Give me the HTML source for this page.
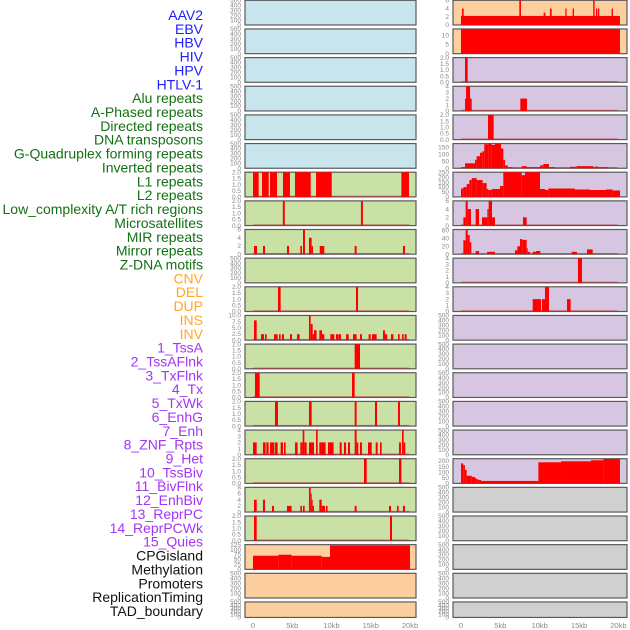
<!DOCTYPE html>
<html><head><meta charset="utf-8">
<style>
html,body{margin:0;padding:0;background:#fff;width:630px;height:630px;overflow:hidden}
svg{display:block}
.lab{font-family:"Liberation Sans",sans-serif;font-size:14px;text-anchor:end}
.tk{font-family:"Liberation Sans",sans-serif;font-size:6.5px;fill:#888;text-anchor:end}
.xt{font-family:"Liberation Sans",sans-serif;font-size:7.5px;fill:#888;text-anchor:middle}
</style></head>
<body>
<svg id="chart" width="630" height="630" viewBox="0 0 630 630" xmlns="http://www.w3.org/2000/svg"></svg>
<script>
// ---- data ----
const trackLabels = ["AAV2","EBV","HBV","HIV","HPV","HTLV-1","Alu repeats","A-Phased repeats","Directed repeats","DNA transposons","G-Quadruplex forming repeats","Inverted repeats","L1 repeats","L2 repeats","Low_complexity A/T rich regions","Microsatellites","MIR repeats","Mirror repeats","Z-DNA motifs","CNV","DEL","DUP","INS","INV","1_TssA","2_TssAFlnk","3_TxFlnk","4_Tx","5_TxWk","6_EnhG","7_Enh","8_ZNF_Rpts","9_Het","10_TssBiv","11_BivFlnk","12_EnhBiv","13_ReprPC","14_ReprPCWk","15_Quies","CPGisland","Methylation","Promoters","ReplicationTiming","TAD_boundary"];
const labelGroups = ["virus","virus","virus","virus","virus","virus","repeat","repeat","repeat","repeat","repeat","repeat","repeat","repeat","repeat","repeat","repeat","repeat","repeat","sv","sv","sv","sv","sv","state","state","state","state","state","state","state","state","state","state","state","state","state","state","state","other","other","other","other","other"];
const xTickValues = [0,5,10,15,20];
const xTickLabels = ["0","5kb","10kb","15kb","20kb"];
const emptyTicks = ["0","100","200","300","400","500"];
const ticks2 = ["0.0","0.5","1.0","1.5","2.0"];

// left column panels (rows 0..21), bars: [startKb, endKb, value]
const L_alu = [[0,0.72,2],[1.15,2.0,2],[2.17,3.06,2],[3.82,4.71,2],[5.35,7.35,2],[8.03,10.03,2],[18.9,19.87,2]];
const L_aphased = [[3.8,4.05,2],[13.75,14.0,2]];
const L_directed = [[0.13,0.51,2],[1.27,1.53,2],[4.33,4.59,2],[6.03,6.24,2],[6.37,6.62,6],[7.13,7.47,4],[7.47,7.64,2],[8.5,9.08,2],[12.95,13.2,2],[19.1,19.36,2]];
const L_micro = [[3.18,3.52,2],[13.12,13.38,2]];
const L_mir = [[0.13,0.47,8],[1.02,1.4,2.4],[1.53,1.74,2.4],[2.68,3.14,2.4],[3.31,3.52,2.4],[3.69,3.95,2.4],[4.71,4.97,2.4],[5.6,5.94,2.4],[7.13,7.35,10],[7.35,7.6,6.5],[7.6,7.77,2.4],[7.77,8.1,4],[8.45,8.79,4],[8.79,9.08,2.4],[9.85,10.36,2.4],[10.57,10.87,2.4],[10.91,11.21,2.4],[11.85,12.19,2.4],[12.74,13.2,2.4],[13.63,13.88,2.4],[14.73,14.99,2.4],[15.16,15.75,2.4],[16.56,16.81,4],[16.81,17.1,2.4],[17.58,17.88,2.4],[18.47,18.68,2.4],[18.98,19.19,2.4],[19.32,19.57,2.4]];
const L_mirror = [[12.95,13.63,2]];
const L_zdna = [[0.25,0.85,2],[12.61,12.95,2]];
const L_cnv = [[2.8,3.18,2],[7.13,7.47,2],[12.95,13.2,2],[15.54,15.8,2],[18.47,18.72,2]];
const L_del = [[0,0.47,2],[1.27,1.61,2],[1.7,1.99,2],[2.17,2.68,2],[2.76,3.14,2],[3.52,3.82,2],[3.95,4.16,2],[5.35,5.69,2],[6.03,6.33,2],[6.33,6.54,4],[6.54,6.84,2],[7.13,7.77,2],[8.03,8.24,4],[8.45,9.25,2],[9.55,10.27,2],[11.04,11.3,2],[11.59,11.85,2],[12.1,12.36,2],[12.95,13.2,4],[13.2,13.41,2],[13.63,13.88,2],[14.65,15.12,2],[15.63,15.88,2],[16.18,16.39,2],[18.6,18.85,2],[18.98,19.19,4],[19.19,19.4,2]];
const L_dup = [[14.14,14.48,2],[18.6,18.9,2]];
const L_ins = [[0.13,0.47,4],[1.27,1.53,4],[2.42,2.68,2],[4.33,4.92,2],[6.03,6.24,2],[6.37,6.58,2],[7.13,7.35,8],[7.35,7.47,6],[7.47,7.6,4],[7.6,7.77,2],[8.45,8.75,4],[8.75,9.17,2],[9.3,9.5,2],[12.95,13.2,2],[17.32,17.58,2],[18.34,18.55,2],[19.1,19.36,2]];
const L_inv = [[0.13,0.47,2],[17.45,17.71,2]];
const L_cpg = [[0,3.22,69],[3.22,4.92,74],[4.92,8.75,69],[8.75,9.81,63],[9.81,20.0,121]];

// right column panels
const R_aav2 = [[0,20.2,2.2],[0.13,0.34,4],[7.41,7.62,6],[10.5,10.72,3],[11.3,11.52,4],[13.26,13.42,4],[14.19,14.36,4],[16.8,16.98,6],[17.15,17.32,4],[17.4,17.57,4],[19.14,19.31,4]];
const R_ebv = [[0,20.2,13.5]];
const R_hbv = [[0.51,0.85,2]];
const R_hiv = [[0.51,0.64,2],[0.64,1.15,4],[1.15,1.36,2],[7.54,8.39,2]];
const R_hpv = [[3.43,4.15,2]];
const R_htlv = [[0,0.51,8],[0.51,1.78,35],[1.78,1.99,60],[1.99,2.41,85],[2.41,2.71,110],[2.71,2.96,120],[2.96,3.47,170],[3.47,3.9,175],[3.9,4.32,165],[4.32,5.08,180],[5.08,5.38,140],[5.38,5.59,60],[5.59,5.93,20],[5.93,6.56,8],[7.71,8.34,15],[8.34,10.04,8],[10.04,10.46,20],[10.46,11.18,30],[11.18,11.94,8],[13.85,14.69,10],[14.69,16.81,15],[16.81,17.02,8],[17.02,17.45,12],[17.45,18.72,8]];
const R_alu = [[0,0.3,85],[0.3,0.72,100],[0.72,1.06,130],[1.06,1.36,170],[1.36,1.99,190],[1.99,2.75,170],[2.75,3.26,140],[3.26,3.47,80],[3.47,3.9,70],[3.9,4.95,80],[4.95,5.38,110],[5.38,7.71,250],[7.71,8.13,220],[8.13,10.04,250],[10.04,10.67,80],[10.67,11.1,70],[11.1,14.48,85],[14.48,16.39,75],[16.39,18.42,70],[18.42,19.27,75],[19.27,20.2,65]];
const R_aph = [[0.3,0.59,2],[0.59,0.85,6],[0.85,1.27,4],[1.86,2.29,4],[2.67,3.35,2],[3.35,3.52,4],[3.52,3.94,6],[3.94,4.32,2],[7.88,8.34,2]];
const R_dir = [[0.3,0.59,35],[0.59,0.85,62],[0.85,1.1,48],[1.1,1.31,30],[1.86,2.29,8],[3.31,4.32,6],[6.86,7.16,10],[7.16,7.5,20],[7.5,7.79,38],[7.79,8.34,36],[8.34,8.47,15],[8.47,8.77,6],[9.11,9.53,6],[9.53,10.08,8],[14.06,14.74,6],[16.01,16.73,12]];
const R_dna = [[14.86,15.37,4]];
const R_gq = [[9.11,10.17,2],[10.29,10.67,2],[10.67,11.18,4],[13.47,13.93,2]];
const R_biv = [[0,0.29,178],[0.29,0.5,163],[0.5,0.72,120],[0.72,1.36,68],[1.36,1.78,58],[1.78,1.99,46],[1.99,2.2,37],[2.2,2.54,31],[2.54,9.83,22],[9.83,12.71,188],[12.71,16.52,197],[16.52,18.09,206],[18.09,20.2,218]];

const panels = [
 // col, row, bg, tickLabels, ymax, bars, baseline
 [0,0,"blue",emptyTicks,500,[],false],[0,1,"blue",emptyTicks,500,[],false],[0,2,"blue",emptyTicks,500,[],false],
 [0,3,"blue",emptyTicks,500,[],false],[0,4,"blue",emptyTicks,500,[],false],[0,5,"blue",emptyTicks,500,[],false],
 [0,6,"green",ticks2,2,L_alu,true],[0,7,"green",ticks2,2,L_aphased,true],[0,8,"green",["0","2","4","6"],6,L_directed,true],
 [0,9,"green",emptyTicks,500,[],false],[0,10,"green",ticks2,2,L_micro,true],[0,11,"green",["0.0","2.5","5.0","7.5","10.0"],10,L_mir,true],
 [0,12,"green",ticks2,2,L_mirror,true],[0,13,"green",ticks2,2,L_zdna,true],[0,14,"green",ticks2,2,L_cnv,true],
 [0,15,"green",["0","1","2","3","4"],4,L_del,true],[0,16,"green",ticks2,2,L_dup,true],[0,17,"green",["0","2","4","6","8"],8,L_ins,true],
 [0,18,"green",ticks2,2,L_inv,true],[0,19,"orange",["0","25","50","75","100","125"],125,L_cpg,false],
 [0,20,"orange",emptyTicks,500,[],false],[0,21,"orange",emptyTicks,500,[],false],
 [1,0,"orange",["0","2","4","6"],6,R_aav2,false],[1,1,"orange",["0","5","10"],13.5,R_ebv,false],
 [1,2,"purple",ticks2,2,R_hbv,true],[1,3,"purple",["0","1","2","3","4"],4,R_hiv,true],[1,4,"purple",ticks2,2,R_hpv,true],
 [1,5,"purple",["0","50","100","150"],175,R_htlv,true],[1,6,"purple",["0","50","100","150","200","250"],250,R_alu,false],
 [1,7,"purple",["0","2","4","6"],6,R_aph,true],[1,8,"purple",["0","20","40","60"],62,R_dir,true],
 [1,9,"purple",["0","1","2","3","4"],4,R_dna,true],[1,10,"purple",["0","1","2","3","4"],4,R_gq,true],
 [1,11,"purple",emptyTicks,500,[],false],[1,12,"purple",emptyTicks,500,[],false],[1,13,"purple",emptyTicks,500,[],false],
 [1,14,"purple",emptyTicks,500,[],false],[1,15,"purple",emptyTicks,500,[],false],
 [1,16,"purple",["0","50","100","150","200"],220,R_biv,false],
 [1,17,"grey",emptyTicks,500,[],false],[1,18,"grey",emptyTicks,500,[],false],[1,19,"grey",emptyTicks,500,[],false],
 [1,20,"grey",emptyTicks,500,[],false],[1,21,"grey",emptyTicks,500,[],false]
];

// ---- rendering ----
const NS = "http://www.w3.org/2000/svg";
const svg = document.getElementById("chart");
const bgColors = {blue:"#c8e4ec",green:"#c9e1a5",orange:"#fecf9e",purple:"#d6c6e2",grey:"#d0d0d0"};
const labColors = {virus:"#2020ff",repeat:"#137013",sv:"#ffa726",state:"#a335f5",other:"#111"};
const colGeom = [{left:245,right:416,x0:253,k:7.85,tickX:241},{left:453,right:627,x0:461,k:7.87,tickX:449}];
const rowPitch = 28.65, panelH = 24.7;
function mk(tag, attrs){const e=document.createElementNS(NS,tag);for(const a in attrs)e.setAttribute(a,attrs[a]);return e;}
function xScale(col, kb){return colGeom[col].x0 + kb*colGeom[col].k;}

// labels
trackLabels.forEach((t,i)=>{
  const el = mk("text",{x:203,y:20+i*13.86,class:"lab",fill:labColors[labelGroups[i]]});
  el.textContent = t;
  
  
  svg.appendChild(el);
});

panels.forEach(p=>{
  const [col,row,bg,tl,ymax,bars,base] = p;
  const g = colGeom[col];
  const top = row*rowPitch + 0.3;
  const h = row===21 ? 15.5 : panelH;
  const bottom = top + h;
  const yScale = v => bottom - Math.min(v,ymax)/ymax*h;
  const grp = mk("g",{});
  
  
  const r = mk("rect",{x:g.left,y:top,width:g.right-g.left,height:h,fill:bgColors[bg],stroke:"#5a5a5a","stroke-width":1.2});
  
  
  grp.appendChild(r);
  if(base){
    const bl = mk("rect",{x:xScale(col,0),y:bottom-1.2,width:xScale(col,19.9)-xScale(col,0),height:1.2,fill:"#b03030",opacity:0.6});
    
    
    grp.appendChild(bl);
  }
  bars.forEach(b=>{
    const x1 = xScale(col,b[0]), x2 = xScale(col,b[1]);
    const y = yScale(b[2]);
    const br = mk("rect",{x:x1,y:y,width:Math.max(x2-x1,1),height:bottom-y,fill:"#ff0000"});
    
    
    grp.appendChild(br);
  });
  tl.forEach(t=>{
    const v = parseFloat(t);
    const tx = mk("text",{x:g.tickX,y:yScale(v)+2.2,class:"tk"});
    tx.textContent = t;
    
    
    grp.appendChild(tx);
  });
  svg.appendChild(grp);
});

[0,1].forEach(col=>{
  xTickValues.forEach((v,i)=>{
    const t = mk("text",{x:xScale(col,v),y:628,class:"xt"});
    t.textContent = xTickLabels[i];
    
    
    svg.appendChild(t);
  });
});
</script>
</body></html>
